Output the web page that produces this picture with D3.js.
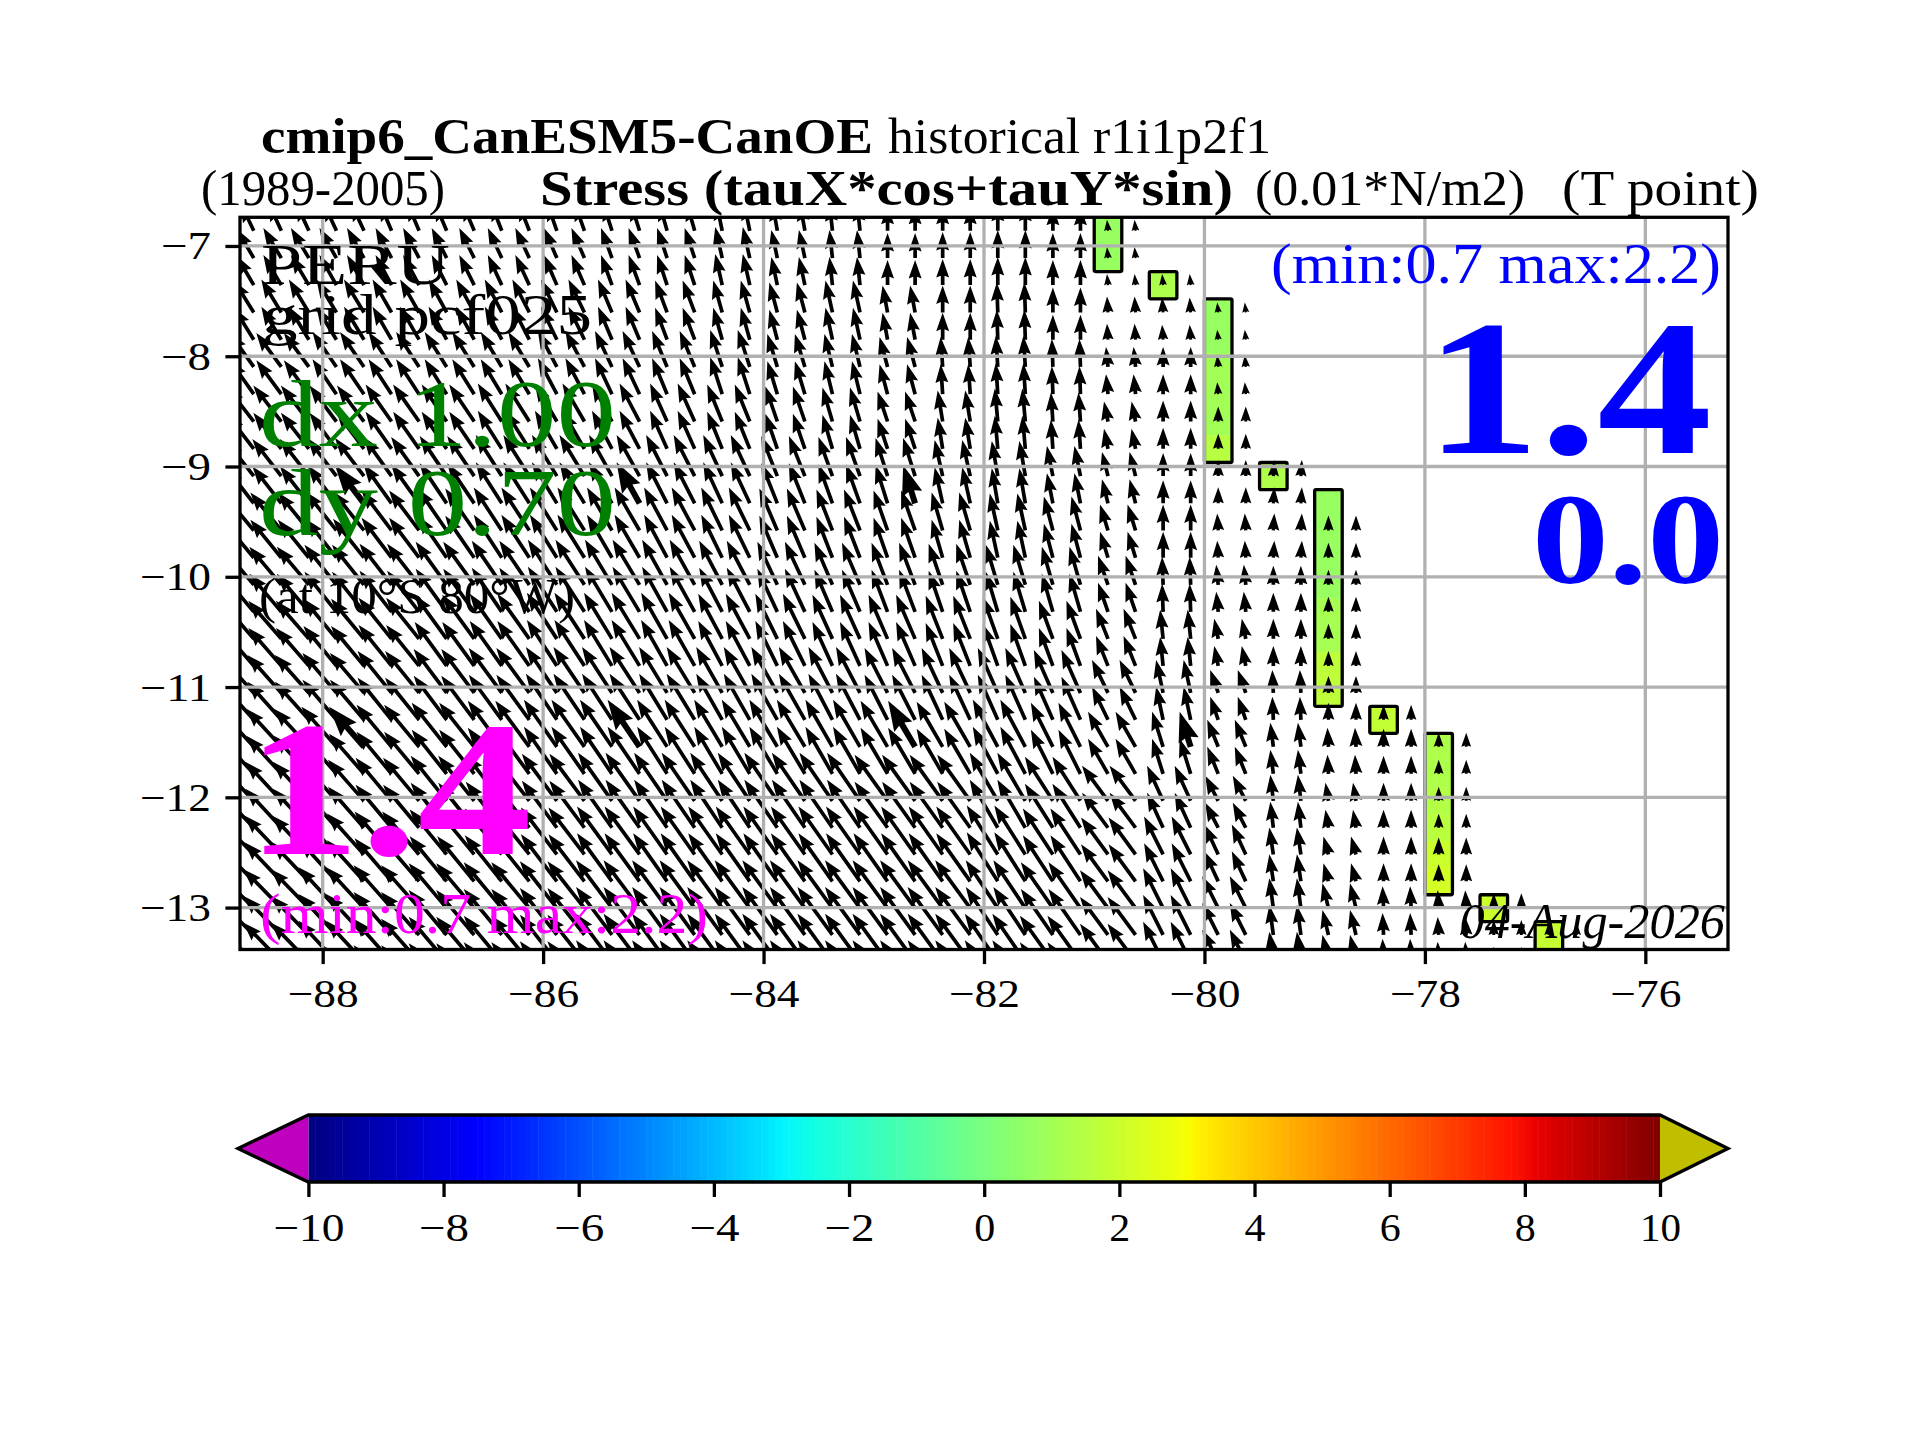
<!DOCTYPE html>
<html>
<head>
<meta charset="utf-8">
<script src="https://cdnjs.cloudflare.com/ajax/libs/d3/7.8.5/d3.min.js"></script>
<style>
body { margin: 0; background: #fff; }
text { font-family: "Liberation Serif", serif; fill: #000; }
</style>
</head>
<body>
<script>
var xTicks = [-88, -86, -84, -82, -80, -78, -76];
var yTicks = [-7, -8, -9, -10, -11, -12, -13];
var cbTicks = [-10, -8, -6, -4, -2, 0, 2, 4, 6, 8, 10];

// T point latitudes of the rows, top to bottom
var rowLats = [-6.615, -6.862, -7.110, -7.355, -7.603, -7.850, -8.097, -8.344, -8.592, -8.840,
  -9.087, -9.334, -9.580, -9.827, -10.073, -10.318, -10.563, -10.808, -11.053, -11.297,
  -11.542, -11.787, -12.032, -12.276, -12.518, -12.762, -13.005, -13.248, -13.491, -13.731];

// wind stress comes in blocks of 2 rows x 2 columns (0.5 deg), one line per block row
var blockLonStart = -88.875;
var tauWest = [
  [1.3,1.3,1.3,1.2,1.2,1.1,1.0,0.9,0.8,0.6,0.5,0.3,0,0,0,0,0.1,0],
  [1.7,1.8,1.7,1.6,1.5,1.4,1.3,1.1,1.0,0.7,0.6,0.3,0,0,0,0,0.1,0.1],
  [2.0,2.0,2.0,1.9,1.8,1.7,1.6,1.4,1.2,0.9,0.8,0.7,0.5,0,0.1,0,0.1,0.1,0.1],
  [2.4,2.5,2.4,2.3,2.2,2.1,1.9,1.7,1.5,1.2,1.0,0.8,0.8,0.2,0.2,0.1,0.2,0,0.1],
  [2.7,2.8,2.7,2.6,2.5,2.4,2.2,2.0,1.7,1.5,1.2,1.0,1.0,0.5,0.3,0.2,0.4,0,0],
  [2.8,2.9,2.9,2.8,2.7,2.6,2.5,2.3,2.1,1.9,1.6,1.4,1.2,0.8,0.6,0.6,0.6,0,0,-0.1],
  [3.0,3.1,3.1,3.0,2.9,2.8,2.7,2.5,2.3,2.1,1.8,1.6,1.4,1.1,0.8,0.9,0.8,0,0.1,-0.1,0],
  [3.1,3.2,3.2,3.2,3.1,3.0,2.9,2.7,2.5,2.3,2.0,1.8,1.6,1.4,1.2,1.1,1.0,0.1,0.2,0,0],
  [3.2,3.3,3.3,3.3,3.2,3.2,3.0,2.8,2.6,2.4,2.2,2.0,1.9,1.7,1.5,1.4,1.2,0.3,0.4,0,0],
  [3.3,3.4,3.4,3.4,3.3,3.3,3.1,3.0,2.8,2.6,2.6,2.4,2.3,2.1,2.0,1.9,1.6,0.7,0.8,0.1,0,0],
  [3.4,3.5,3.5,3.5,3.5,3.4,3.3,3.2,3.0,2.8,2.8,2.7,2.7,2.6,2.5,2.2,2.0,1.1,1.1,0.3,0.1,0,0],
  [3.5,3.6,3.6,3.6,3.6,3.6,3.5,3.4,3.3,3.2,3.3,3.3,3.3,3.3,2.8,2.8,2.6,1.6,1.3,0.3,0.3,0,0],
  [3.6,3.7,3.7,3.7,3.7,3.7,3.6,3.5,3.4,3.4,3.4,3.4,3.4,3.4,3.1,3.0,2.7,1.9,1.4,0.4,0.5,0,0],
  [3.7,3.8,3.8,3.8,3.8,3.8,3.7,3.6,3.5,3.5,3.5,3.5,3.5,3.5,3.2,3.2,2.8,2.0,1.6,0.4,0.6,0.1,0.1,0,0],
  [3.7,3.8,3.8,3.8,3.8,3.8,3.7,3.6,3.5,3.5,3.5,3.5,3.5,3.5,3.3,3.3,2.8,2.0,1.6,0.4,0.6,0.1,0.1,0,0]
];
var tauNorth = [
  [2.7,2.8,2.8,2.8,2.8,2.8,2.8,2.8,2.8,2.9,2.8,2.8,2.5,2.5,2.8,2.4,1.1,0],
  [2.9,3.0,3.0,3.0,3.0,3.0,3.0,3.0,3.0,3.1,2.8,2.8,2.5,2.6,2.8,2.5,1.1,1.1],
  [3.2,3.3,3.3,3.3,3.3,3.3,3.3,3.3,3.2,3.2,3.0,3.2,2.7,2.7,3.0,2.5,1.6,1.5,1.0],
  [3.4,3.4,3.5,3.5,3.5,3.5,3.6,3.6,3.6,3.7,3.3,3.3,3.0,3.0,3.1,2.8,2.0,2.0,1.2],
  [3.5,3.6,3.6,3.7,3.7,3.8,3.8,3.8,3.8,3.7,3.5,3.4,3.0,3.1,3.3,2.9,2.0,2.1,1.5],
  [3.6,3.7,3.8,3.9,4.0,4.1,4.1,4.1,4.1,4.1,4.0,3.9,3.8,3.6,3.5,3.0,2.4,2.3,1.6,1.6],
  [3.6,3.8,3.9,4.0,4.2,4.3,4.3,4.3,4.3,4.3,4.2,4.1,4.0,3.8,3.7,3.4,2.6,2.6,1.7,1.7,1.5],
  [3.7,3.8,4.0,4.1,4.3,4.4,4.5,4.5,4.5,4.4,4.3,4.2,4.2,4.1,4.0,3.8,2.9,2.8,2.0,1.9,1.5],
  [3.7,3.8,4.0,4.1,4.4,4.5,4.6,4.6,4.6,4.5,4.5,4.4,4.4,4.3,4.2,3.8,3.0,2.9,2.0,2.0,1.5],
  [3.7,3.8,4.0,4.2,4.4,4.5,4.6,4.6,4.6,4.6,4.6,4.6,4.5,4.5,4.5,4.3,3.3,3.3,2.3,2.3,1.7,1.5],
  [3.7,3.8,4.0,4.2,4.4,4.6,4.7,4.7,4.7,4.7,4.7,4.7,4.6,4.5,4.7,4.4,3.5,3.5,2.7,2.4,1.9,1.8,1.4],
  [3.7,3.9,4.1,4.3,4.5,4.6,4.7,4.8,4.8,4.8,4.8,4.8,4.6,4.6,4.8,4.4,3.5,3.5,2.5,2.6,1.8,1.8,1.4],
  [3.7,3.9,4.1,4.3,4.5,4.6,4.7,4.8,4.8,4.8,4.8,4.8,4.8,4.8,4.9,4.6,3.7,3.8,3.0,2.7,1.8,1.8,1.7],
  [3.7,3.9,4.1,4.3,4.5,4.6,4.7,4.8,4.8,4.8,4.8,4.8,4.8,4.8,4.8,4.6,3.8,4.0,3.2,3.0,2.5,2.2,1.8,1.5,1.3],
  [3.7,3.9,4.1,4.3,4.5,4.6,4.7,4.8,4.8,4.8,4.8,4.8,4.8,4.8,4.8,4.6,3.8,4.0,3.2,3.0,2.7,2.3,2.0,1.5,1.3]
];
// the few arrows drawn heavier, [lon, row index]
var heavyArrows = [[-87.625, 11], [-85.125, 11], [-82.625, 11],
  [-87.625, 20], [-85.125, 20], [-82.625, 20], [-80.125, 20]];

// coastal cells: west edge of the column, first row, and the value of each row
var coastLon = [-81, -80.5, -80, -79.5, -79, -78.5, -78, -77.5, -77];
var coastFirstRow = [0, 3, 4, 10, 11, 19, 20, 26, 27];
var coastValues = [
  [0.75, 0.75, 0.75],
  [1.25],
  [0.75, 0.75, 1.0, 1.0, 1.0, 1.5],
  [1.3],
  [0.75, 0.75, 0.75, 0.75, 1.1, 1.1, 1.7, 1.7],
  [1.8],
  [1.3, 1.3, 1.4, 1.6, 2.0, 2.2],
  [2.0],
  [1.9, 1.9, 1.9]
];

var jetStops = [0, 0.11, 0.125, 0.34, 0.35, 0.375, 0.64, 0.65, 0.66, 0.89, 0.91, 1];
var jetColors = ["#00007f", "#0000f0", "#0000ff", "#00e5ff", "#00f5ff", "#13ffe3", "#ebff0c", "#f7ff00", "#ffee00", "#ff1300", "#e80000", "#7f0000"];

var svg = d3.select("body").append("svg").attr("width", 1920).attr("height", 1440);

var x = d3.scaleLinear().domain([-88.75, -75.25]).range([240, 1728]);
var y = d3.scaleLinear().domain([-6.74, -13.38]).range([217.3, 949.5]);
var quiver = d3.scaleLinear().domain([0, 1]).range([0, 10]);
var jet = d3.scaleLinear().domain(jetStops.map(function(s) { return s * 20 - 10; })).range(jetColors);

svg.append("clipPath").attr("id", "box").append("rect")
  .attr("x", 240).attr("y", 217.3).attr("width", 1488).attr("height", 732.2);

var plot = svg.append("g").attr("clip-path", "url(#box)");

function rowEdge(i) {
  if (i <= 0) return rowLats[0] + 0.125;
  if (i >= rowLats.length) return rowLats[rowLats.length - 1] - 0.125;
  return (rowLats[i - 1] + rowLats[i]) / 2;
}

// coastal cells
coastLon.forEach(function(lon, c) {
  var first = coastFirstRow[c], vals = coastValues[c];
  plot.selectAll(null).data(vals).enter().append("rect")
    .attr("x", x(lon)).attr("width", x(lon + 0.25) - x(lon))
    .attr("y", function(d, i) { return y(rowEdge(first + i)); })
    .attr("height", function(d, i) { return y(rowEdge(first + i + 1)) - y(rowEdge(first + i)) + 0.5; })
    .attr("fill", function(d) { return jet(d); });
  plot.append("rect")
    .attr("x", x(lon)).attr("width", x(lon + 0.25) - x(lon))
    .attr("y", y(rowEdge(first))).attr("height", y(rowEdge(first + vals.length)) - y(rowEdge(first)))
    .attr("rx", 1.5)
    .attr("fill", "none").attr("stroke", "#000").attr("stroke-width", 3.3);
});

function lastLonOfRow(i) {
  var c = d3.bisectRight(coastFirstRow, i) - 1;
  return coastLon[c] + 0.375;
}

// expand the blocks onto the 0.25 deg points
var arrows = [];
rowLats.forEach(function(lat, i) {
  var r = Math.floor(i / 2);
  for (var k = 0; k < 50; k++) {
    var lon = blockLonStart + k * 0.25;
    var c = Math.floor(k / 2);
    if (lon > lastLonOfRow(i)) break;
    if (tauNorth[r][c] === undefined) continue;
    var heavy = heavyArrows.some(function(h) { return h[0] === lon && h[1] === i; });
    arrows.push({ lon: lon, lat: lat, u: -tauWest[r][c], v: tauNorth[r][c], heavy: heavy });
  }
});

// same shape as a quiver arrow, tail at the point, pointing along +x
function arrowPath(len, w) {
  var hl = 5 * w, ha = 4.5 * w, hw = 1.75 * w, k = 1;
  if (len < hl) { k = len / hl; len = hl; }
  var p = d3.path();
  p.moveTo(0, 0.5 * w * k);
  p.lineTo((len - ha) * k, 0.5 * w * k);
  p.lineTo((len - hl) * k, hw * k);
  p.lineTo(len * k, 0);
  p.lineTo((len - hl) * k, -hw * k);
  p.lineTo((len - ha) * k, -0.5 * w * k);
  p.lineTo(0, -0.5 * w * k);
  p.closePath();
  return p.toString();
}

plot.selectAll("path.arrow").data(arrows).enter().append("path")
  .attr("class", "arrow")
  .attr("d", function(d) {
    return arrowPath(quiver(Math.sqrt(d.u * d.u + d.v * d.v)), d.heavy ? 6 : 3.7);
  })
  .attr("transform", function(d) {
    var a = Math.atan2(-d.v, d.u) * 180 / Math.PI;
    return "translate(" + x(d.lon) + "," + y(d.lat) + ") rotate(" + a + ")";
  })
  .attr("fill", "#000");

// grid sits on top of the arrows
plot.selectAll("line.gx").data(xTicks).enter().append("line")
  .attr("x1", x).attr("x2", x).attr("y1", 217.3).attr("y2", 949.5)
  .attr("stroke", "#b0b0b0").attr("stroke-width", 3.3);
plot.selectAll("line.gy").data(yTicks).enter().append("line")
  .attr("y1", y).attr("y2", y).attr("x1", 240).attr("x2", 1728)
  .attr("stroke", "#b0b0b0").attr("stroke-width", 3.3);

svg.append("rect").attr("x", 240).attr("y", 217.3).attr("width", 1488).attr("height", 732.2)
  .attr("fill", "none").attr("stroke", "#000").attr("stroke-width", 3.3);

// axes
var intFormat = d3.format("d");
function styleAxis(g) {
  g.select(".domain").remove();
  g.selectAll(".tick line").attr("stroke", "#000").attr("stroke-width", 3.3);
  g.selectAll(".tick text").style("font-size", "40px").attr("fill", "#000");
}
var xAxis = svg.append("g").attr("transform", "translate(0,949.5)")
  .call(d3.axisBottom(x).tickValues(xTicks).tickFormat(intFormat).tickSize(14.6)).call(styleAxis);
xAxis.selectAll(".tick text").attr("y", 57.5).attr("dy", 0)
  .attr("textLength", 71).attr("lengthAdjust", "spacingAndGlyphs");
var yAxis = svg.append("g").attr("transform", "translate(240,0)")
  .call(d3.axisLeft(y).tickValues(yTicks).tickFormat(intFormat).tickSize(14.6)).call(styleAxis);
yAxis.selectAll(".tick text").attr("x", -29).attr("dy", 13)
  .attr("textLength", function(d) { return d <= -10 ? 71 : 50; }).attr("lengthAdjust", "spacingAndGlyphs");

// colorbar
var cb = d3.scaleLinear().domain([-10, 10]).range([308.4, 1660]);
var cbLevels = d3.range(-10, 10, 0.1);
svg.selectAll("rect.level").data(cbLevels).enter().append("rect")
  .attr("class", "level")
  .attr("x", function(d) { return cb(d); })
  .attr("width", cb(-9.9) - cb(-10) + 0.5)
  .attr("y", 1115).attr("height", 67)
  .attr("fill", function(d) { return jet(d + 0.05); });
svg.append("path").attr("d", d3.line()([[cb(-10), 1115], [238, 1148.5], [cb(-10), 1182]]) + "Z")
  .attr("fill", "#bf00bf");
svg.append("path").attr("d", d3.line()([[cb(10), 1115], [1728, 1148.5], [cb(10), 1182]]) + "Z")
  .attr("fill", "#bfbf00");
svg.append("path")
  .attr("d", d3.line()([[cb(-10), 1115], [cb(10), 1115], [1728, 1148.5], [cb(10), 1182], [cb(-10), 1182], [238, 1148.5]]) + "Z")
  .attr("fill", "none").attr("stroke", "#000").attr("stroke-width", 3.3);
var cbAxis = svg.append("g").attr("transform", "translate(0,1182)")
  .call(d3.axisBottom(cb).tickValues(cbTicks).tickFormat(intFormat).tickSize(15)).call(styleAxis);
cbAxis.selectAll(".tick text").attr("y", 58.7).attr("dy", 0)
  .attr("textLength", function(d) { return d == -10 ? 71 : d < 0 ? 50 : d == 10 ? 41 : 21; })
  .attr("lengthAdjust", "spacingAndGlyphs");

// text, fitted to the width it has in the figure
function label(str, x0, x1, base, size, color, weight, style) {
  svg.append("text").attr("x", x0).attr("y", base)
    .attr("textLength", x1 - x0).attr("lengthAdjust", "spacingAndGlyphs")
    .style("font-size", size + "px")
    .style("fill", color || "#000")
    .style("font-weight", weight || "normal")
    .style("font-style", style || "normal")
    .text(str);
}

label("cmip6_CanESM5-CanOE", 261, 873, 153, 50, "#000", "bold");
label("historical r1i1p2f1", 888, 1271, 153, 50);
label("(1989-2005)", 201, 445, 205, 50);
label("Stress (tauX*cos+tauY*sin)", 540, 1233, 205, 50, "#000", "bold");
label("(0.01*N/m2)", 1255, 1525, 205, 50);
label("(T point)", 1562, 1759, 205, 50);

label("PERU", 261, 450, 284.3, 58);
label("grid pcf025", 262, 592, 334, 58);
label("dx 1.00", 259, 616, 446, 96, "green");
label("dy 0.70", 259, 616, 535, 96, "green");
label("(at 10°S 80°W)", 259, 575, 613, 50);
label("1.4", 246, 532, 854, 192, "#ff00ff", "bold");
label("(min:0.7 max:2.2)", 260, 708, 933, 58, "#ff00ff");

label("(min:0.7 max:2.2)", 1271, 1721, 283, 58, "#0000ff");
label("1.4", 1425, 1712, 453, 192, "#0000ff", "bold");
label("0.0", 1532, 1724, 583, 130, "#0000ff", "bold");
label("04-Aug-2026", 1459.5, 1725, 938, 50, "#000", "normal", "italic");
</script>
</body>
</html>
